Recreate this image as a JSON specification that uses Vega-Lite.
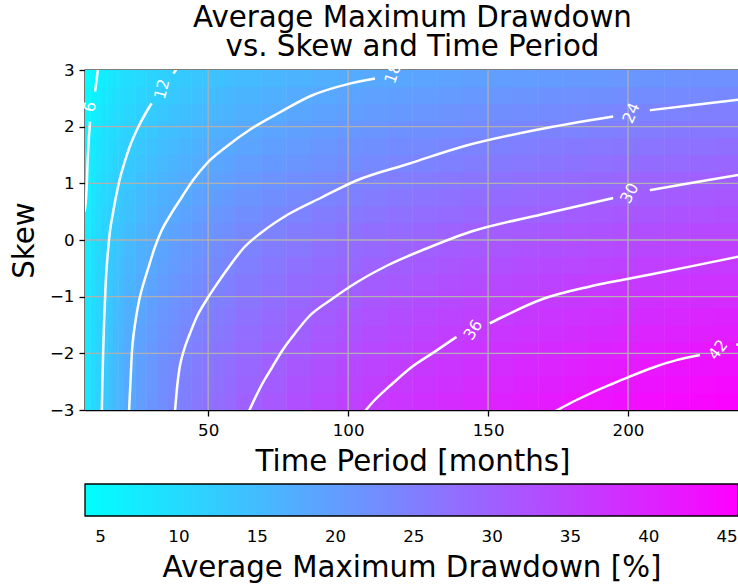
{
"$schema":"https://vega.github.io/schema/vega-lite/v6.json",
"width":655,"height":340,
"autosize":{"type":"none"},
"padding":{"left":85,"top":70,"right":0,"bottom":175},
"background":"white",
"title":{"text":["Average Maximum Drawdown","vs. Skew and Time Period"],"fontSize":29.3,"lineHeight":29,"font":"DejaVu Sans","fontWeight":"normal","color":"black","anchor":"middle","offset":-1},
"config":{"view":{"stroke":"black","strokeWidth":1.3},"font":"DejaVu Sans",
"axis":{"domainColor":"black","domainWidth":1.3,"tickColor":"black","tickWidth":1.3,"tickSize":6,"labelFont":"DejaVu Sans","labelFontSize":16.7,"labelColor":"black","titleFont":"DejaVu Sans","titleFontSize":29.3,"titleFontWeight":"normal","titleColor":"black","grid":false,"labelFlush":false}},
"datasets":{
"gA":[
{"t":7,"s":-2.85,"v":8.1},{"t":9,"s":-2.85,"v":9.9},{"t":11,"s":-2.85,"v":11.4},{"t":13,"s":-2.85,"v":12.8},{"t":15,"s":-2.85,"v":14.2},{"t":17,"s":-2.85,"v":15.5},{"t":19,"s":-2.85,"v":16.6},
{"t":7,"s":-2.55,"v":8.1},{"t":9,"s":-2.55,"v":9.8},{"t":11,"s":-2.55,"v":11.3},{"t":13,"s":-2.55,"v":12.6},{"t":15,"s":-2.55,"v":14.1},{"t":17,"s":-2.55,"v":15.3},{"t":19,"s":-2.55,"v":16.4},
{"t":7,"s":-2.25,"v":8.0},{"t":9,"s":-2.25,"v":9.8},{"t":11,"s":-2.25,"v":11.2},{"t":13,"s":-2.25,"v":12.5},{"t":15,"s":-2.25,"v":13.9},{"t":17,"s":-2.25,"v":15.2},{"t":19,"s":-2.25,"v":16.3},
{"t":7,"s":-1.95,"v":7.9},{"t":9,"s":-1.95,"v":9.7},{"t":11,"s":-1.95,"v":11.1},{"t":13,"s":-1.95,"v":12.4},{"t":15,"s":-1.95,"v":13.8},{"t":17,"s":-1.95,"v":15.1},{"t":19,"s":-1.95,"v":16.2},
{"t":7,"s":-1.65,"v":7.9},{"t":9,"s":-1.65,"v":9.6},{"t":11,"s":-1.65,"v":11.0},{"t":13,"s":-1.65,"v":12.2},{"t":15,"s":-1.65,"v":13.6},{"t":17,"s":-1.65,"v":14.9},{"t":19,"s":-1.65,"v":16.0},
{"t":7,"s":-1.35,"v":7.8},{"t":9,"s":-1.35,"v":9.5},{"t":11,"s":-1.35,"v":10.9},{"t":13,"s":-1.35,"v":12.1},{"t":15,"s":-1.35,"v":13.4},{"t":17,"s":-1.35,"v":14.6},{"t":19,"s":-1.35,"v":15.7},
{"t":7,"s":-1.05,"v":7.7},{"t":9,"s":-1.05,"v":9.4},{"t":11,"s":-1.05,"v":10.8},{"t":13,"s":-1.05,"v":12.0},{"t":15,"s":-1.05,"v":13.2},{"t":17,"s":-1.05,"v":14.4},{"t":19,"s":-1.05,"v":15.4},
{"t":7,"s":-0.75,"v":7.6},{"t":9,"s":-0.75,"v":9.3},{"t":11,"s":-0.75,"v":10.7},{"t":13,"s":-0.75,"v":11.8},{"t":15,"s":-0.75,"v":13.0},{"t":17,"s":-0.75,"v":14.0},{"t":19,"s":-0.75,"v":15.0},
{"t":7,"s":-0.45,"v":7.5},{"t":9,"s":-0.45,"v":9.2},{"t":11,"s":-0.45,"v":10.5},{"t":13,"s":-0.45,"v":11.6},{"t":15,"s":-0.45,"v":12.7},{"t":17,"s":-0.45,"v":13.7},{"t":19,"s":-0.45,"v":14.6},
{"t":7,"s":-0.15,"v":7.4},{"t":9,"s":-0.15,"v":9.0},{"t":11,"s":-0.15,"v":10.3},{"t":13,"s":-0.15,"v":11.4},{"t":15,"s":-0.15,"v":12.4},{"t":17,"s":-0.15,"v":13.4},{"t":19,"s":-0.15,"v":14.2},
{"t":7,"s":0.15,"v":7.2},{"t":9,"s":0.15,"v":8.8},{"t":11,"s":0.15,"v":10.1},{"t":13,"s":0.15,"v":11.1},{"t":15,"s":0.15,"v":12.1},{"t":17,"s":0.15,"v":13.0},{"t":19,"s":0.15,"v":13.8},
{"t":7,"s":0.45,"v":7.0},{"t":9,"s":0.45,"v":8.5},{"t":11,"s":0.45,"v":9.8},{"t":13,"s":0.45,"v":10.8},{"t":15,"s":0.45,"v":11.7},{"t":17,"s":0.45,"v":12.5},{"t":19,"s":0.45,"v":13.3},
{"t":7,"s":0.75,"v":6.6},{"t":9,"s":0.75,"v":8.1},{"t":11,"s":0.75,"v":9.4},{"t":13,"s":0.75,"v":10.4},{"t":15,"s":0.75,"v":11.2},{"t":17,"s":0.75,"v":12.0},{"t":19,"s":0.75,"v":12.8},
{"t":7,"s":1.05,"v":6.3},{"t":9,"s":1.05,"v":7.8},{"t":11,"s":1.05,"v":9.0},{"t":13,"s":1.05,"v":10.0},{"t":15,"s":1.05,"v":10.8},{"t":17,"s":1.05,"v":11.6},{"t":19,"s":1.05,"v":12.3},
{"t":7,"s":1.35,"v":6.1},{"t":9,"s":1.35,"v":7.5},{"t":11,"s":1.35,"v":8.6},{"t":13,"s":1.35,"v":9.6},{"t":15,"s":1.35,"v":10.4},{"t":17,"s":1.35,"v":11.1},{"t":19,"s":1.35,"v":11.7},
{"t":7,"s":1.65,"v":5.9},{"t":9,"s":1.65,"v":7.2},{"t":11,"s":1.65,"v":8.3},{"t":13,"s":1.65,"v":9.2},{"t":15,"s":1.65,"v":9.9},{"t":17,"s":1.65,"v":10.6},{"t":19,"s":1.65,"v":11.2},
{"t":7,"s":1.95,"v":5.7},{"t":9,"s":1.95,"v":6.9},{"t":11,"s":1.95,"v":7.9},{"t":13,"s":1.95,"v":8.7},{"t":15,"s":1.95,"v":9.5},{"t":17,"s":1.95,"v":10.1},{"t":19,"s":1.95,"v":10.7},
{"t":7,"s":2.25,"v":5.4},{"t":9,"s":2.25,"v":6.4},{"t":11,"s":2.25,"v":7.4},{"t":13,"s":2.25,"v":8.2},{"t":15,"s":2.25,"v":8.9},{"t":17,"s":2.25,"v":9.6},{"t":19,"s":2.25,"v":10.1},
{"t":7,"s":2.55,"v":5.0},{"t":9,"s":2.55,"v":5.9},{"t":11,"s":2.55,"v":6.8},{"t":13,"s":2.55,"v":7.6},{"t":15,"s":2.55,"v":8.3},{"t":17,"s":2.55,"v":8.9},{"t":19,"s":2.55,"v":9.5},
{"t":7,"s":2.85,"v":4.7},{"t":9,"s":2.85,"v":5.6},{"t":11,"s":2.85,"v":6.4},{"t":13,"s":2.85,"v":7.1},{"t":15,"s":2.85,"v":7.8},{"t":17,"s":2.85,"v":8.4},{"t":19,"s":2.85,"v":8.9}],
"gB":[
{"t":22,"s":-2.85,"v":18.1},{"t":26,"s":-2.85,"v":19.9},{"t":30,"s":-2.85,"v":21.4},{"t":34,"s":-2.85,"v":22.7},{"t":38,"s":-2.85,"v":23.9},{"t":42,"s":-2.85,"v":25.0},{"t":46,"s":-2.85,"v":26.0},{"t":50,"s":-2.85,"v":26.9},{"t":54,"s":-2.85,"v":27.8},{"t":58,"s":-2.85,"v":28.6},
{"t":22,"s":-2.55,"v":17.9},{"t":26,"s":-2.55,"v":19.7},{"t":30,"s":-2.55,"v":21.2},{"t":34,"s":-2.55,"v":22.5},{"t":38,"s":-2.55,"v":23.7},{"t":42,"s":-2.55,"v":24.8},{"t":46,"s":-2.55,"v":25.7},{"t":50,"s":-2.55,"v":26.6},{"t":54,"s":-2.55,"v":27.4},{"t":58,"s":-2.55,"v":28.2},
{"t":22,"s":-2.25,"v":17.8},{"t":26,"s":-2.25,"v":19.5},{"t":30,"s":-2.25,"v":21.0},{"t":34,"s":-2.25,"v":22.3},{"t":38,"s":-2.25,"v":23.5},{"t":42,"s":-2.25,"v":24.5},{"t":46,"s":-2.25,"v":25.4},{"t":50,"s":-2.25,"v":26.3},{"t":54,"s":-2.25,"v":27.0},{"t":58,"s":-2.25,"v":27.7},
{"t":22,"s":-1.95,"v":17.6},{"t":26,"s":-1.95,"v":19.3},{"t":30,"s":-1.95,"v":20.8},{"t":34,"s":-1.95,"v":22.0},{"t":38,"s":-1.95,"v":23.2},{"t":42,"s":-1.95,"v":24.2},{"t":46,"s":-1.95,"v":25.1},{"t":50,"s":-1.95,"v":25.9},{"t":54,"s":-1.95,"v":26.6},{"t":58,"s":-1.95,"v":27.3},
{"t":22,"s":-1.65,"v":17.4},{"t":26,"s":-1.65,"v":19.0},{"t":30,"s":-1.65,"v":20.4},{"t":34,"s":-1.65,"v":21.6},{"t":38,"s":-1.65,"v":22.7},{"t":42,"s":-1.65,"v":23.7},{"t":46,"s":-1.65,"v":24.5},{"t":50,"s":-1.65,"v":25.3},{"t":54,"s":-1.65,"v":26.1},{"t":58,"s":-1.65,"v":26.8},
{"t":22,"s":-1.35,"v":17.1},{"t":26,"s":-1.35,"v":18.6},{"t":30,"s":-1.35,"v":20.0},{"t":34,"s":-1.35,"v":21.2},{"t":38,"s":-1.35,"v":22.2},{"t":42,"s":-1.35,"v":23.2},{"t":46,"s":-1.35,"v":24.0},{"t":50,"s":-1.35,"v":24.8},{"t":54,"s":-1.35,"v":25.5},{"t":58,"s":-1.35,"v":26.2},
{"t":22,"s":-1.05,"v":16.7},{"t":26,"s":-1.05,"v":18.2},{"t":30,"s":-1.05,"v":19.5},{"t":34,"s":-1.05,"v":20.6},{"t":38,"s":-1.05,"v":21.6},{"t":42,"s":-1.05,"v":22.5},{"t":46,"s":-1.05,"v":23.4},{"t":50,"s":-1.05,"v":24.1},{"t":54,"s":-1.05,"v":24.8},{"t":58,"s":-1.05,"v":25.5},
{"t":22,"s":-0.75,"v":16.3},{"t":26,"s":-0.75,"v":17.7},{"t":30,"s":-0.75,"v":18.9},{"t":34,"s":-0.75,"v":20.0},{"t":38,"s":-0.75,"v":21.0},{"t":42,"s":-0.75,"v":21.9},{"t":46,"s":-0.75,"v":22.7},{"t":50,"s":-0.75,"v":23.4},{"t":54,"s":-0.75,"v":24.1},{"t":58,"s":-0.75,"v":24.7},
{"t":22,"s":-0.45,"v":15.8},{"t":26,"s":-0.45,"v":17.1},{"t":30,"s":-0.45,"v":18.3},{"t":34,"s":-0.45,"v":19.4},{"t":38,"s":-0.45,"v":20.4},{"t":42,"s":-0.45,"v":21.2},{"t":46,"s":-0.45,"v":22.0},{"t":50,"s":-0.45,"v":22.8},{"t":54,"s":-0.45,"v":23.4},{"t":58,"s":-0.45,"v":24.0},
{"t":22,"s":-0.15,"v":15.4},{"t":26,"s":-0.15,"v":16.7},{"t":30,"s":-0.15,"v":17.8},{"t":34,"s":-0.15,"v":18.8},{"t":38,"s":-0.15,"v":19.8},{"t":42,"s":-0.15,"v":20.6},{"t":46,"s":-0.15,"v":21.4},{"t":50,"s":-0.15,"v":22.1},{"t":54,"s":-0.15,"v":22.8},{"t":58,"s":-0.15,"v":23.4},
{"t":22,"s":0.15,"v":14.9},{"t":26,"s":0.15,"v":16.2},{"t":30,"s":0.15,"v":17.2},{"t":34,"s":0.15,"v":18.2},{"t":38,"s":0.15,"v":19.1},{"t":42,"s":0.15,"v":19.9},{"t":46,"s":0.15,"v":20.7},{"t":50,"s":0.15,"v":21.3},{"t":54,"s":0.15,"v":22.0},{"t":58,"s":0.15,"v":22.5},
{"t":22,"s":0.45,"v":14.3},{"t":26,"s":0.45,"v":15.5},{"t":30,"s":0.45,"v":16.6},{"t":34,"s":0.45,"v":17.5},{"t":38,"s":0.45,"v":18.3},{"t":42,"s":0.45,"v":19.1},{"t":46,"s":0.45,"v":19.8},{"t":50,"s":0.45,"v":20.5},{"t":54,"s":0.45,"v":21.1},{"t":58,"s":0.45,"v":21.6},
{"t":22,"s":0.75,"v":13.8},{"t":26,"s":0.75,"v":14.9},{"t":30,"s":0.75,"v":15.9},{"t":34,"s":0.75,"v":16.8},{"t":38,"s":0.75,"v":17.6},{"t":42,"s":0.75,"v":18.3},{"t":46,"s":0.75,"v":19.0},{"t":50,"s":0.75,"v":19.6},{"t":54,"s":0.75,"v":20.2},{"t":58,"s":0.75,"v":20.7},
{"t":22,"s":1.05,"v":13.2},{"t":26,"s":1.05,"v":14.4},{"t":30,"s":1.05,"v":15.3},{"t":34,"s":1.05,"v":16.2},{"t":38,"s":1.05,"v":16.9},{"t":42,"s":1.05,"v":17.6},{"t":46,"s":1.05,"v":18.2},{"t":50,"s":1.05,"v":18.8},{"t":54,"s":1.05,"v":19.4},{"t":58,"s":1.05,"v":19.9},
{"t":22,"s":1.35,"v":12.6},{"t":26,"s":1.35,"v":13.7},{"t":30,"s":1.35,"v":14.7},{"t":34,"s":1.35,"v":15.5},{"t":38,"s":1.35,"v":16.3},{"t":42,"s":1.35,"v":16.9},{"t":46,"s":1.35,"v":17.5},{"t":50,"s":1.35,"v":18.1},{"t":54,"s":1.35,"v":18.6},{"t":58,"s":1.35,"v":19.1},
{"t":22,"s":1.65,"v":12.0},{"t":26,"s":1.65,"v":13.1},{"t":30,"s":1.65,"v":14.0},{"t":34,"s":1.65,"v":14.8},{"t":38,"s":1.65,"v":15.5},{"t":42,"s":1.65,"v":16.1},{"t":46,"s":1.65,"v":16.7},{"t":50,"s":1.65,"v":17.2},{"t":54,"s":1.65,"v":17.7},{"t":58,"s":1.65,"v":18.2},
{"t":22,"s":1.95,"v":11.4},{"t":26,"s":1.95,"v":12.3},{"t":30,"s":1.95,"v":13.2},{"t":34,"s":1.95,"v":14.0},{"t":38,"s":1.95,"v":14.7},{"t":42,"s":1.95,"v":15.3},{"t":46,"s":1.95,"v":15.9},{"t":50,"s":1.95,"v":16.4},{"t":54,"s":1.95,"v":16.9},{"t":58,"s":1.95,"v":17.3},
{"t":22,"s":2.25,"v":10.8},{"t":26,"s":2.25,"v":11.7},{"t":30,"s":2.25,"v":12.5},{"t":34,"s":2.25,"v":13.2},{"t":38,"s":2.25,"v":13.9},{"t":42,"s":2.25,"v":14.5},{"t":46,"s":2.25,"v":15.0},{"t":50,"s":2.25,"v":15.5},{"t":54,"s":2.25,"v":16.0},{"t":58,"s":2.25,"v":16.4},
{"t":22,"s":2.55,"v":10.2},{"t":26,"s":2.55,"v":11.0},{"t":30,"s":2.55,"v":11.7},{"t":34,"s":2.55,"v":12.4},{"t":38,"s":2.55,"v":13.0},{"t":42,"s":2.55,"v":13.6},{"t":46,"s":2.55,"v":14.2},{"t":50,"s":2.55,"v":14.7},{"t":54,"s":2.55,"v":15.1},{"t":58,"s":2.55,"v":15.6},
{"t":22,"s":2.85,"v":9.6},{"t":26,"s":2.85,"v":10.4},{"t":30,"s":2.85,"v":11.1},{"t":34,"s":2.85,"v":11.7},{"t":38,"s":2.85,"v":12.2},{"t":42,"s":2.85,"v":12.8},{"t":46,"s":2.85,"v":13.3},{"t":50,"s":2.85,"v":13.7},{"t":54,"s":2.85,"v":14.2},{"t":58,"s":2.85,"v":14.6}],
"gC":[
{"t":64.5,"s":-2.85,"v":29.8},{"t":73.5,"s":-2.85,"v":31.3},{"t":82.5,"s":-2.85,"v":32.7},{"t":91.5,"s":-2.85,"v":33.9},{"t":100.5,"s":-2.85,"v":35.0},{"t":109.5,"s":-2.85,"v":36.1},{"t":118.5,"s":-2.85,"v":37.0},{"t":127.5,"s":-2.85,"v":37.9},{"t":136.5,"s":-2.85,"v":38.7},{"t":145.5,"s":-2.85,"v":39.4},{"t":154.5,"s":-2.85,"v":40.2},{"t":163.5,"s":-2.85,"v":40.8},{"t":172.5,"s":-2.85,"v":41.5},{"t":181.5,"s":-2.85,"v":42.1},{"t":190.5,"s":-2.85,"v":42.6},{"t":199.5,"s":-2.85,"v":43.2},{"t":208.5,"s":-2.85,"v":43.7},{"t":217.5,"s":-2.85,"v":44.2},{"t":226.5,"s":-2.85,"v":44.6},{"t":235.5,"s":-2.85,"v":45.1},
{"t":64.5,"s":-2.55,"v":29.3},{"t":73.5,"s":-2.55,"v":30.7},{"t":82.5,"s":-2.55,"v":32.1},{"t":91.5,"s":-2.55,"v":33.3},{"t":100.5,"s":-2.55,"v":34.4},{"t":109.5,"s":-2.55,"v":35.4},{"t":118.5,"s":-2.55,"v":36.3},{"t":127.5,"s":-2.55,"v":37.2},{"t":136.5,"s":-2.55,"v":37.9},{"t":145.5,"s":-2.55,"v":38.7},{"t":154.5,"s":-2.55,"v":39.4},{"t":163.5,"s":-2.55,"v":40.0},{"t":172.5,"s":-2.55,"v":40.6},{"t":181.5,"s":-2.55,"v":41.2},{"t":190.5,"s":-2.55,"v":41.8},{"t":199.5,"s":-2.55,"v":42.3},{"t":208.5,"s":-2.55,"v":42.8},{"t":217.5,"s":-2.55,"v":43.2},{"t":226.5,"s":-2.55,"v":43.7},{"t":235.5,"s":-2.55,"v":44.1},
{"t":64.5,"s":-2.25,"v":28.8},{"t":73.5,"s":-2.25,"v":30.1},{"t":82.5,"s":-2.25,"v":31.4},{"t":91.5,"s":-2.25,"v":32.6},{"t":100.5,"s":-2.25,"v":33.7},{"t":109.5,"s":-2.25,"v":34.7},{"t":118.5,"s":-2.25,"v":35.6},{"t":127.5,"s":-2.25,"v":36.5},{"t":136.5,"s":-2.25,"v":37.2},{"t":145.5,"s":-2.25,"v":37.9},{"t":154.5,"s":-2.25,"v":38.6},{"t":163.5,"s":-2.25,"v":39.3},{"t":172.5,"s":-2.25,"v":39.8},{"t":181.5,"s":-2.25,"v":40.4},{"t":190.5,"s":-2.25,"v":41.0},{"t":199.5,"s":-2.25,"v":41.5},{"t":208.5,"s":-2.25,"v":42.0},{"t":217.5,"s":-2.25,"v":42.4},{"t":226.5,"s":-2.25,"v":42.8},{"t":235.5,"s":-2.25,"v":43.1},
{"t":64.5,"s":-1.95,"v":28.3},{"t":73.5,"s":-1.95,"v":29.6},{"t":82.5,"s":-1.95,"v":30.8},{"t":91.5,"s":-1.95,"v":32.0},{"t":100.5,"s":-1.95,"v":33.0},{"t":109.5,"s":-1.95,"v":34.0},{"t":118.5,"s":-1.95,"v":34.8},{"t":127.5,"s":-1.95,"v":35.6},{"t":136.5,"s":-1.95,"v":36.4},{"t":145.5,"s":-1.95,"v":37.1},{"t":154.5,"s":-1.95,"v":37.7},{"t":163.5,"s":-1.95,"v":38.3},{"t":172.5,"s":-1.95,"v":38.9},{"t":181.5,"s":-1.95,"v":39.4},{"t":190.5,"s":-1.95,"v":40.0},{"t":199.5,"s":-1.95,"v":40.5},{"t":208.5,"s":-1.95,"v":40.9},{"t":217.5,"s":-1.95,"v":41.4},{"t":226.5,"s":-1.95,"v":41.8},{"t":235.5,"s":-1.95,"v":42.2},
{"t":64.5,"s":-1.65,"v":27.8},{"t":73.5,"s":-1.65,"v":29.1},{"t":82.5,"s":-1.65,"v":30.2},{"t":91.5,"s":-1.65,"v":31.3},{"t":100.5,"s":-1.65,"v":32.3},{"t":109.5,"s":-1.65,"v":33.2},{"t":118.5,"s":-1.65,"v":34.0},{"t":127.5,"s":-1.65,"v":34.8},{"t":136.5,"s":-1.65,"v":35.5},{"t":145.5,"s":-1.65,"v":36.2},{"t":154.5,"s":-1.65,"v":36.8},{"t":163.5,"s":-1.65,"v":37.4},{"t":172.5,"s":-1.65,"v":37.9},{"t":181.5,"s":-1.65,"v":38.4},{"t":190.5,"s":-1.65,"v":38.9},{"t":199.5,"s":-1.65,"v":39.3},{"t":208.5,"s":-1.65,"v":39.8},{"t":217.5,"s":-1.65,"v":40.2},{"t":226.5,"s":-1.65,"v":40.6},{"t":235.5,"s":-1.65,"v":41.0},
{"t":64.5,"s":-1.35,"v":27.2},{"t":73.5,"s":-1.35,"v":28.5},{"t":82.5,"s":-1.35,"v":29.6},{"t":91.5,"s":-1.35,"v":30.6},{"t":100.5,"s":-1.35,"v":31.6},{"t":109.5,"s":-1.35,"v":32.5},{"t":118.5,"s":-1.35,"v":33.3},{"t":127.5,"s":-1.35,"v":34.0},{"t":136.5,"s":-1.35,"v":34.7},{"t":145.5,"s":-1.35,"v":35.3},{"t":154.5,"s":-1.35,"v":35.9},{"t":163.5,"s":-1.35,"v":36.5},{"t":172.5,"s":-1.35,"v":37.0},{"t":181.5,"s":-1.35,"v":37.5},{"t":190.5,"s":-1.35,"v":37.9},{"t":199.5,"s":-1.35,"v":38.4},{"t":208.5,"s":-1.35,"v":38.8},{"t":217.5,"s":-1.35,"v":39.2},{"t":226.5,"s":-1.35,"v":39.6},{"t":235.5,"s":-1.35,"v":39.9},
{"t":64.5,"s":-1.05,"v":26.5},{"t":73.5,"s":-1.05,"v":27.7},{"t":82.5,"s":-1.05,"v":28.8},{"t":91.5,"s":-1.05,"v":29.8},{"t":100.5,"s":-1.05,"v":30.7},{"t":109.5,"s":-1.05,"v":31.6},{"t":118.5,"s":-1.05,"v":32.4},{"t":127.5,"s":-1.05,"v":33.1},{"t":136.5,"s":-1.05,"v":33.8},{"t":145.5,"s":-1.05,"v":34.5},{"t":154.5,"s":-1.05,"v":35.1},{"t":163.5,"s":-1.05,"v":35.7},{"t":172.5,"s":-1.05,"v":36.2},{"t":181.5,"s":-1.05,"v":36.6},{"t":190.5,"s":-1.05,"v":37.0},{"t":199.5,"s":-1.05,"v":37.4},{"t":208.5,"s":-1.05,"v":37.7},{"t":217.5,"s":-1.05,"v":38.1},{"t":226.5,"s":-1.05,"v":38.4},{"t":235.5,"s":-1.05,"v":38.7},
{"t":64.5,"s":-0.75,"v":25.7},{"t":73.5,"s":-0.75,"v":26.9},{"t":82.5,"s":-0.75,"v":28.0},{"t":91.5,"s":-0.75,"v":28.9},{"t":100.5,"s":-0.75,"v":29.8},{"t":109.5,"s":-0.75,"v":30.6},{"t":118.5,"s":-0.75,"v":31.3},{"t":127.5,"s":-0.75,"v":32.0},{"t":136.5,"s":-0.75,"v":32.7},{"t":145.5,"s":-0.75,"v":33.3},{"t":154.5,"s":-0.75,"v":33.9},{"t":163.5,"s":-0.75,"v":34.4},{"t":172.5,"s":-0.75,"v":34.9},{"t":181.5,"s":-0.75,"v":35.4},{"t":190.5,"s":-0.75,"v":35.9},{"t":199.5,"s":-0.75,"v":36.3},{"t":208.5,"s":-0.75,"v":36.6},{"t":217.5,"s":-0.75,"v":37.0},{"t":226.5,"s":-0.75,"v":37.3},{"t":235.5,"s":-0.75,"v":37.6},
{"t":64.5,"s":-0.45,"v":25.0},{"t":73.5,"s":-0.45,"v":26.1},{"t":82.5,"s":-0.45,"v":27.2},{"t":91.5,"s":-0.45,"v":28.1},{"t":100.5,"s":-0.45,"v":28.9},{"t":109.5,"s":-0.45,"v":29.7},{"t":118.5,"s":-0.45,"v":30.4},{"t":127.5,"s":-0.45,"v":31.0},{"t":136.5,"s":-0.45,"v":31.6},{"t":145.5,"s":-0.45,"v":32.2},{"t":154.5,"s":-0.45,"v":32.7},{"t":163.5,"s":-0.45,"v":33.2},{"t":172.5,"s":-0.45,"v":33.7},{"t":181.5,"s":-0.45,"v":34.1},{"t":190.5,"s":-0.45,"v":34.6},{"t":199.5,"s":-0.45,"v":35.0},{"t":208.5,"s":-0.45,"v":35.4},{"t":217.5,"s":-0.45,"v":35.7},{"t":226.5,"s":-0.45,"v":36.1},{"t":235.5,"s":-0.45,"v":36.4},
{"t":64.5,"s":-0.15,"v":24.3},{"t":73.5,"s":-0.15,"v":25.4},{"t":82.5,"s":-0.15,"v":26.3},{"t":91.5,"s":-0.15,"v":27.2},{"t":100.5,"s":-0.15,"v":28.0},{"t":109.5,"s":-0.15,"v":28.7},{"t":118.5,"s":-0.15,"v":29.4},{"t":127.5,"s":-0.15,"v":30.0},{"t":136.5,"s":-0.15,"v":30.6},{"t":145.5,"s":-0.15,"v":31.1},{"t":154.5,"s":-0.15,"v":31.6},{"t":163.5,"s":-0.15,"v":32.1},{"t":172.5,"s":-0.15,"v":32.6},{"t":181.5,"s":-0.15,"v":33.0},{"t":190.5,"s":-0.15,"v":33.4},{"t":199.5,"s":-0.15,"v":33.8},{"t":208.5,"s":-0.15,"v":34.2},{"t":217.5,"s":-0.15,"v":34.6},{"t":226.5,"s":-0.15,"v":34.9},{"t":235.5,"s":-0.15,"v":35.2},
{"t":64.5,"s":0.15,"v":23.4},{"t":73.5,"s":0.15,"v":24.5},{"t":82.5,"s":0.15,"v":25.4},{"t":91.5,"s":0.15,"v":26.3},{"t":100.5,"s":0.15,"v":27.0},{"t":109.5,"s":0.15,"v":27.7},{"t":118.5,"s":0.15,"v":28.4},{"t":127.5,"s":0.15,"v":29.0},{"t":136.5,"s":0.15,"v":29.6},{"t":145.5,"s":0.15,"v":30.1},{"t":154.5,"s":0.15,"v":30.6},{"t":163.5,"s":0.15,"v":31.0},{"t":172.5,"s":0.15,"v":31.5},{"t":181.5,"s":0.15,"v":31.9},{"t":190.5,"s":0.15,"v":32.3},{"t":199.5,"s":0.15,"v":32.7},{"t":208.5,"s":0.15,"v":33.0},{"t":217.5,"s":0.15,"v":33.4},{"t":226.5,"s":0.15,"v":33.7},{"t":235.5,"s":0.15,"v":34.0},
{"t":64.5,"s":0.45,"v":22.5},{"t":73.5,"s":0.45,"v":23.5},{"t":82.5,"s":0.45,"v":24.4},{"t":91.5,"s":0.45,"v":25.2},{"t":100.5,"s":0.45,"v":25.9},{"t":109.5,"s":0.45,"v":26.6},{"t":118.5,"s":0.45,"v":27.2},{"t":127.5,"s":0.45,"v":27.8},{"t":136.5,"s":0.45,"v":28.3},{"t":145.5,"s":0.45,"v":28.8},{"t":154.5,"s":0.45,"v":29.3},{"t":163.5,"s":0.45,"v":29.7},{"t":172.5,"s":0.45,"v":30.2},{"t":181.5,"s":0.45,"v":30.6},{"t":190.5,"s":0.45,"v":31.0},{"t":199.5,"s":0.45,"v":31.4},{"t":208.5,"s":0.45,"v":31.7},{"t":217.5,"s":0.45,"v":32.1},{"t":226.5,"s":0.45,"v":32.4},{"t":235.5,"s":0.45,"v":32.7},
{"t":64.5,"s":0.75,"v":21.5},{"t":73.5,"s":0.75,"v":22.5},{"t":82.5,"s":0.75,"v":23.3},{"t":91.5,"s":0.75,"v":24.1},{"t":100.5,"s":0.75,"v":24.8},{"t":109.5,"s":0.75,"v":25.5},{"t":118.5,"s":0.75,"v":26.1},{"t":127.5,"s":0.75,"v":26.7},{"t":136.5,"s":0.75,"v":27.2},{"t":145.5,"s":0.75,"v":27.7},{"t":154.5,"s":0.75,"v":28.2},{"t":163.5,"s":0.75,"v":28.6},{"t":172.5,"s":0.75,"v":29.0},{"t":181.5,"s":0.75,"v":29.4},{"t":190.5,"s":0.75,"v":29.8},{"t":199.5,"s":0.75,"v":30.2},{"t":208.5,"s":0.75,"v":30.5},{"t":217.5,"s":0.75,"v":30.9},{"t":226.5,"s":0.75,"v":31.2},{"t":235.5,"s":0.75,"v":31.5},
{"t":64.5,"s":1.05,"v":20.7},{"t":73.5,"s":1.05,"v":21.6},{"t":82.5,"s":1.05,"v":22.4},{"t":91.5,"s":1.05,"v":23.2},{"t":100.5,"s":1.05,"v":23.8},{"t":109.5,"s":1.05,"v":24.5},{"t":118.5,"s":1.05,"v":25.1},{"t":127.5,"s":1.05,"v":25.6},{"t":136.5,"s":1.05,"v":26.1},{"t":145.5,"s":1.05,"v":26.6},{"t":154.5,"s":1.05,"v":27.1},{"t":163.5,"s":1.05,"v":27.5},{"t":172.5,"s":1.05,"v":27.9},{"t":181.5,"s":1.05,"v":28.3},{"t":190.5,"s":1.05,"v":28.7},{"t":199.5,"s":1.05,"v":29.0},{"t":208.5,"s":1.05,"v":29.4},{"t":217.5,"s":1.05,"v":29.7},{"t":226.5,"s":1.05,"v":30.0},{"t":235.5,"s":1.05,"v":30.3},
{"t":64.5,"s":1.35,"v":19.8},{"t":73.5,"s":1.35,"v":20.6},{"t":82.5,"s":1.35,"v":21.4},{"t":91.5,"s":1.35,"v":22.1},{"t":100.5,"s":1.35,"v":22.7},{"t":109.5,"s":1.35,"v":23.3},{"t":118.5,"s":1.35,"v":23.8},{"t":127.5,"s":1.35,"v":24.3},{"t":136.5,"s":1.35,"v":24.8},{"t":145.5,"s":1.35,"v":25.3},{"t":154.5,"s":1.35,"v":25.8},{"t":163.5,"s":1.35,"v":26.2},{"t":172.5,"s":1.35,"v":26.6},{"t":181.5,"s":1.35,"v":27.0},{"t":190.5,"s":1.35,"v":27.4},{"t":199.5,"s":1.35,"v":27.7},{"t":208.5,"s":1.35,"v":28.0},{"t":217.5,"s":1.35,"v":28.4},{"t":226.5,"s":1.35,"v":28.7},{"t":235.5,"s":1.35,"v":29.0},
{"t":64.5,"s":1.65,"v":18.9},{"t":73.5,"s":1.65,"v":19.7},{"t":82.5,"s":1.65,"v":20.5},{"t":91.5,"s":1.65,"v":21.2},{"t":100.5,"s":1.65,"v":21.8},{"t":109.5,"s":1.65,"v":22.3},{"t":118.5,"s":1.65,"v":22.9},{"t":127.5,"s":1.65,"v":23.3},{"t":136.5,"s":1.65,"v":23.8},{"t":145.5,"s":1.65,"v":24.2},{"t":154.5,"s":1.65,"v":24.6},{"t":163.5,"s":1.65,"v":25.0},{"t":172.5,"s":1.65,"v":25.4},{"t":181.5,"s":1.65,"v":25.8},{"t":190.5,"s":1.65,"v":26.1},{"t":199.5,"s":1.65,"v":26.4},{"t":208.5,"s":1.65,"v":26.7},{"t":217.5,"s":1.65,"v":27.0},{"t":226.5,"s":1.65,"v":27.3},{"t":235.5,"s":1.65,"v":27.6},
{"t":64.5,"s":1.95,"v":18.0},{"t":73.5,"s":1.95,"v":18.8},{"t":82.5,"s":1.95,"v":19.5},{"t":91.5,"s":1.95,"v":20.2},{"t":100.5,"s":1.95,"v":20.8},{"t":109.5,"s":1.95,"v":21.3},{"t":118.5,"s":1.95,"v":21.8},{"t":127.5,"s":1.95,"v":22.3},{"t":136.5,"s":1.95,"v":22.7},{"t":145.5,"s":1.95,"v":23.1},{"t":154.5,"s":1.95,"v":23.5},{"t":163.5,"s":1.95,"v":23.8},{"t":172.5,"s":1.95,"v":24.2},{"t":181.5,"s":1.95,"v":24.5},{"t":190.5,"s":1.95,"v":24.8},{"t":199.5,"s":1.95,"v":25.1},{"t":208.5,"s":1.95,"v":25.4},{"t":217.5,"s":1.95,"v":25.7},{"t":226.5,"s":1.95,"v":25.9},{"t":235.5,"s":1.95,"v":26.2},
{"t":64.5,"s":2.25,"v":17.1},{"t":73.5,"s":2.25,"v":17.8},{"t":82.5,"s":2.25,"v":18.5},{"t":91.5,"s":2.25,"v":19.2},{"t":100.5,"s":2.25,"v":19.7},{"t":109.5,"s":2.25,"v":20.3},{"t":118.5,"s":2.25,"v":20.7},{"t":127.5,"s":2.25,"v":21.2},{"t":136.5,"s":2.25,"v":21.6},{"t":145.5,"s":2.25,"v":22.0},{"t":154.5,"s":2.25,"v":22.4},{"t":163.5,"s":2.25,"v":22.7},{"t":172.5,"s":2.25,"v":23.0},{"t":181.5,"s":2.25,"v":23.3},{"t":190.5,"s":2.25,"v":23.6},{"t":199.5,"s":2.25,"v":23.9},{"t":208.5,"s":2.25,"v":24.2},{"t":217.5,"s":2.25,"v":24.4},{"t":226.5,"s":2.25,"v":24.7},{"t":235.5,"s":2.25,"v":24.9},
{"t":64.5,"s":2.55,"v":16.2},{"t":73.5,"s":2.55,"v":17.0},{"t":82.5,"s":2.55,"v":17.7},{"t":91.5,"s":2.55,"v":18.3},{"t":100.5,"s":2.55,"v":18.8},{"t":109.5,"s":2.55,"v":19.3},{"t":118.5,"s":2.55,"v":19.7},{"t":127.5,"s":2.55,"v":20.1},{"t":136.5,"s":2.55,"v":20.5},{"t":145.5,"s":2.55,"v":20.8},{"t":154.5,"s":2.55,"v":21.2},{"t":163.5,"s":2.55,"v":21.5},{"t":172.5,"s":2.55,"v":21.8},{"t":181.5,"s":2.55,"v":22.1},{"t":190.5,"s":2.55,"v":22.3},{"t":199.5,"s":2.55,"v":22.6},{"t":208.5,"s":2.55,"v":22.8},{"t":217.5,"s":2.55,"v":23.1},{"t":226.5,"s":2.55,"v":23.3},{"t":235.5,"s":2.55,"v":23.5},
{"t":64.5,"s":2.85,"v":15.2},{"t":73.5,"s":2.85,"v":15.9},{"t":82.5,"s":2.85,"v":16.5},{"t":91.5,"s":2.85,"v":17.1},{"t":100.5,"s":2.85,"v":17.6},{"t":109.5,"s":2.85,"v":18.1},{"t":118.5,"s":2.85,"v":18.5},{"t":127.5,"s":2.85,"v":18.9},{"t":136.5,"s":2.85,"v":19.2},{"t":145.5,"s":2.85,"v":19.5},{"t":154.5,"s":2.85,"v":19.8},{"t":163.5,"s":2.85,"v":20.1},{"t":172.5,"s":2.85,"v":20.4},{"t":181.5,"s":2.85,"v":20.7},{"t":190.5,"s":2.85,"v":20.9},{"t":199.5,"s":2.85,"v":21.2},{"t":208.5,"s":2.85,"v":21.4},{"t":217.5,"s":2.85,"v":21.6},{"t":226.5,"s":2.85,"v":21.8},{"t":235.5,"s":2.85,"v":22.0}],
"gx":[{"t":50},{"t":100},{"t":150},{"t":200}],
"gy":[{"s":-2},{"s":-1},{"s":0},{"s":1},{"s":2}],
"cl":[
{"g":"6a","t":5.8,"s":0.5},{"g":"6a","t":6.4,"s":0.75},{"g":"6a","t":6.7,"s":1.05},{"g":"6a","t":6.9,"s":1.35},{"g":"6a","t":7.2,"s":1.65},{"g":"6a","t":7.6,"s":1.95},{"g":"6a","t":7.8,"s":2.09},
{"g":"6b","t":9.6,"s":2.62},{"g":"6b","t":10.2,"s":2.85},{"g":"6b","t":10.7,"s":3.05},
{"g":"12a","t":12.0,"s":-3.05},{"g":"12a","t":12.2,"s":-2.55},{"g":"12a","t":12.5,"s":-1.95},{"g":"12a","t":12.9,"s":-1.35},{"g":"12a","t":13.4,"s":-0.75},{"g":"12a","t":14.3,"s":-0.15},{"g":"12a","t":14.9,"s":0.15},{"g":"12a","t":15.9,"s":0.45},{"g":"12a","t":17.0,"s":0.75},{"g":"12a","t":18.3,"s":1.05},{"g":"12a","t":20.0,"s":1.35},{"g":"12a","t":22.0,"s":1.65},{"g":"12a","t":24.6,"s":1.95},{"g":"12a","t":27.8,"s":2.25},{"g":"12a","t":29.8,"s":2.41},
{"g":"12b","t":37.6,"s":2.94},{"g":"12b","t":39.2,"s":3.05},
{"g":"18a","t":21.7,"s":-3.05},{"g":"18a","t":22.2,"s":-2.55},{"g":"18a","t":22.8,"s":-1.95},{"g":"18a","t":23.4,"s":-1.65},{"g":"18a","t":24.3,"s":-1.35},{"g":"18a","t":25.4,"s":-1.05},{"g":"18a","t":27.0,"s":-0.75},{"g":"18a","t":28.9,"s":-0.45},{"g":"18a","t":30.8,"s":-0.15},{"g":"18a","t":33.2,"s":0.15},{"g":"18a","t":36.6,"s":0.45},{"g":"18a","t":40.5,"s":0.75},{"g":"18a","t":44.5,"s":1.05},{"g":"18a","t":49.5,"s":1.35},{"g":"18a","t":56.6,"s":1.65},{"g":"18a","t":65.0,"s":1.95},{"g":"18a","t":75.5,"s":2.25},{"g":"18a","t":87.0,"s":2.55},{"g":"18a","t":100.6,"s":2.76},{"g":"18a","t":109.6,"s":2.85},
{"g":"24a","t":38.1,"s":-3.05},{"g":"24a","t":39.0,"s":-2.55},{"g":"24a","t":39.8,"s":-2.25},{"g":"24a","t":41.3,"s":-1.95},{"g":"24a","t":43.5,"s":-1.65},{"g":"24a","t":46.0,"s":-1.35},{"g":"24a","t":49.5,"s":-1.05},{"g":"24a","t":53.5,"s":-0.75},{"g":"24a","t":57.8,"s":-0.45},{"g":"24a","t":62.5,"s":-0.15},{"g":"24a","t":69.5,"s":0.15},{"g":"24a","t":78.5,"s":0.45},{"g":"24a","t":90.5,"s":0.75},{"g":"24a","t":103,"s":1.05},{"g":"24a","t":122,"s":1.35},{"g":"24a","t":141,"s":1.65},{"g":"24a","t":168,"s":1.95},{"g":"24a","t":194.7,"s":2.18},
{"g":"24b","t":207.8,"s":2.29},{"g":"24b","t":225,"s":2.39},{"g":"24b","t":242,"s":2.49},
{"g":"30a","t":64.3,"s":-3.05},{"g":"30a","t":69.2,"s":-2.55},{"g":"30a","t":72.8,"s":-2.25},{"g":"30a","t":76.5,"s":-1.95},{"g":"30a","t":81,"s":-1.65},{"g":"30a","t":86,"s":-1.35},{"g":"30a","t":94,"s":-1.05},{"g":"30a","t":103,"s":-0.75},{"g":"30a","t":114,"s":-0.45},{"g":"30a","t":128,"s":-0.15},{"g":"30a","t":144,"s":0.15},{"g":"30a","t":169,"s":0.45},{"g":"30a","t":194.7,"s":0.74},
{"g":"30b","t":207.8,"s":0.88},{"g":"30b","t":224,"s":1.02},{"g":"30b","t":242,"s":1.17},
{"g":"36a","t":105.5,"s":-3.05},{"g":"36a","t":109,"s":-2.85},{"g":"36a","t":115.5,"s":-2.55},{"g":"36a","t":122.5,"s":-2.25},{"g":"36a","t":131,"s":-1.97},{"g":"36a","t":138.7,"s":-1.71},
{"g":"36b","t":150.6,"s":-1.47},{"g":"36b","t":155.5,"s":-1.35},{"g":"36b","t":169,"s":-1.05},{"g":"36b","t":186.4,"s":-0.82},{"g":"36b","t":200.6,"s":-0.68},{"g":"36b","t":222,"s":-0.47},{"g":"36b","t":242,"s":-0.27},
{"g":"42a","t":173,"s":-3.05},{"g":"42a","t":180.5,"s":-2.85},{"g":"42a","t":186.4,"s":-2.71},{"g":"42a","t":193.8,"s":-2.55},{"g":"42a","t":200.6,"s":-2.41},{"g":"42a","t":209,"s":-2.25},{"g":"42a","t":217.3,"s":-2.12},{"g":"42a","t":225.7,"s":-2.03},
{"g":"42b","t":238.7,"s":-1.85},{"g":"42b","t":242,"s":-1.82}],
"lb":[{"k":"6","t":7.9,"s":2.35},{"k":"12","t":33.6,"s":2.66},{"k":"18","t":116.1,"s":2.94},{"k":"24","t":201.2,"s":2.24},{"k":"30","t":200.6,"s":0.82},{"k":"36","t":144.7,"s":-1.59},{"k":"42","t":232.2,"s":-1.94}]
},
"layer":[
{"encoding":{
"x":{"field":"t","type":"quantitative","title":"Time Period [months]","scale":{"domain":[6,240],"nice":false,"zero":false},"axis":{"values":[50,100,150,200],"format":"d","labelPadding":6,"titlePadding":9}},
"y":{"field":"s","type":"quantitative","title":"Skew","scale":{"domain":[-3,3],"nice":false,"zero":false},"axis":{"values":[-3,-2,-1,0,1,2,3],"format":"d","labelPadding":5,"titlePadding":10}},
"color":{"field":"v","type":"quantitative","title":"Average Maximum Drawdown [%]","scale":{"domain":[4,45.7],"range":["#00ffff","#ff00ff"],"interpolate":"rgb","nice":false,"zero":false},
"legend":{"orient":"none","legendX":0,"legendY":414,"direction":"horizontal","gradientLength":653,"gradientThickness":32,"gradientStrokeColor":"black","gradientStrokeWidth":1.3,"values":[5,10,15,20,25,30,35,40,45],"labelFont":"DejaVu Sans","labelFontSize":16.7,"labelColor":"black","labelOffset":13,"labelOverlap":false,"titleOrient":"bottom","titleAnchor":"middle","titleFont":"DejaVu Sans","titleFontSize":29.3,"titleFontWeight":"normal","titleColor":"black","titlePadding":8,"titleLimit":0,"padding":0}}},
"layer":[
{"data":{"name":"gA"},"mark":{"type":"rect","width":6.1,"height":17.5,"clip":true}},
{"data":{"name":"gB"},"mark":{"type":"rect","width":11.7,"height":17.5,"clip":true}},
{"data":{"name":"gC"},"mark":{"type":"rect","width":25.7,"height":17.5,"clip":true}}
]},
{"data":{"name":"gx"},"mark":{"type":"rule","color":"#b0b0b0","strokeWidth":1.3},"encoding":{"x":{"field":"t","type":"quantitative","title":"Time Period [months]"}}},
{"data":{"name":"gy"},"mark":{"type":"rule","color":"#b0b0b0","strokeWidth":1.3},"encoding":{"y":{"field":"s","type":"quantitative","title":"Skew"}}},
{"data":{"name":"cl"},"mark":{"type":"line","color":"white","strokeWidth":2.5,"clip":true,"interpolate":"monotone"},"encoding":{"x":{"field":"t","type":"quantitative","title":"Time Period [months]"},"y":{"field":"s","type":"quantitative","title":"Skew"},"detail":{"field":"g"},"order":{"field":"s","type":"quantitative"}}},
{"data":{"name":"lb"},"mark":{"type":"text","color":"white","fontSize":16,"font":"DejaVu Sans","align":"center","baseline":"middle"},"encoding":{"x":{"field":"t","type":"quantitative","title":"Time Period [months]"},"y":{"field":"s","type":"quantitative","title":"Skew"},"text":{"field":"k"},"angle":{"field":"k","type":"nominal","scale":{"domain":["6","12","18","24","30","36","42"],"range":[280,307,349,350,347,338,346]},"legend":null}}}
]
}
